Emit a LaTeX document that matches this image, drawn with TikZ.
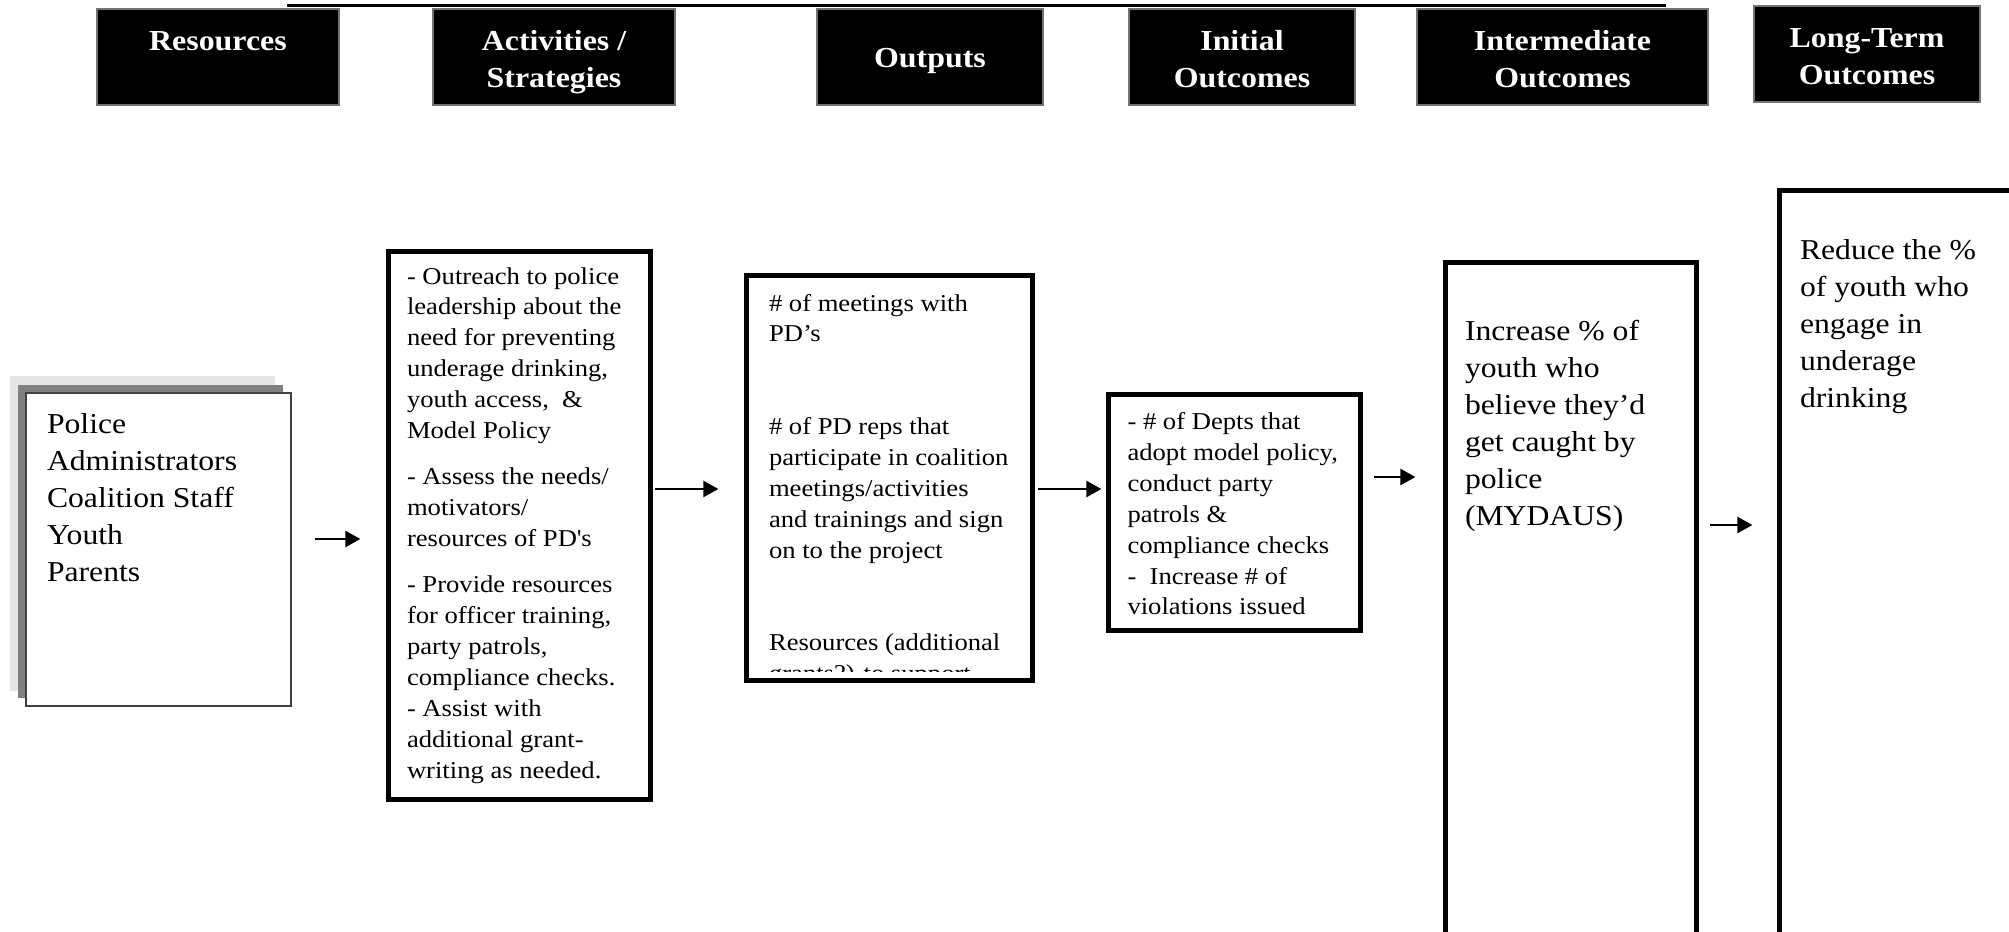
\documentclass[tikz,border=0pt]{standalone}
\usepackage{fontspec}
\setmainfont{Liberation Serif}[FakeStretch=1.1]
\usetikzlibrary{arrows.meta,fit}

% a block of left-aligned lines whose first baseline is the node's base
\newcommand\txtblock[3]{\parbox[t]{300pt}{\fontsize{#1}{#2}\selectfont\raggedright #3}}
% centred header lines, first baseline at the node's base
\newcommand\hdrlines[1]{\parbox[t]{140pt}{\centering\fontsize{14.5}{18.5}\selectfont\bfseries #1}}

\tikzset{
  hdr/.style={fill=black, draw=black!55, line width=0.6pt, inner sep=0pt},
  hdrtext/.style={anchor=base, inner sep=0pt, outer sep=0pt, text=white},
  frame/.style={draw=black, line width=2.6pt, inner sep=0pt},
  inbox/.style={draw=black!75, fill=white, line width=0.8pt, inner sep=0pt},
  txt/.style={anchor=base west, inner sep=0pt, outer sep=0pt},
  arr/.style={line width=1.15pt, -{Triangle[length=7.5pt,width=8pt]}},
}

\begin{document}
\begin{tikzpicture}[x=0.5pt,y=-0.5pt]
\useasboundingbox (0,0) rectangle (2009,932);

% rule under the title
\draw[line width=1.7pt] (287,5.7) -- (1666,5.7);

% column headers
\node[hdr, fit={(97,9) (339,105)}] (hres) {};
\node[hdrtext] (hrest) at (hres.center |- 0,50) {\hdrlines{Resources}};
\node[hdr, fit={(433,9) (675,105)}] (hact) {};
\node[hdrtext] (hactt) at (hact.center |- 0,50) {\hdrlines{Activities /\\Strategies}};
\node[hdr, fit={(817,9) (1043,105)}] (hout) {};
\node[hdrtext] (houtt) at (hout.center |- 0,67) {\hdrlines{Outputs}};
\node[hdr, fit={(1129,9) (1355,105)}] (hini) {};
\node[hdrtext] (hinit) at (hini.center |- 0,50) {\hdrlines{Initial\\Outcomes}};
\node[hdr, fit={(1417,9) (1708,105)}] (hmid) {};
\node[hdrtext] (hmidt) at (hmid.center |- 0,50) {\hdrlines{Intermediate\\Outcomes}};
\node[hdr, fit={(1754,6) (1980,102)}] (hlong) {};
\node[hdrtext] (hlongt) at (hlong.center |- 0,47.5) {\hdrlines{Long-Term\\Outcomes}};

% resources card with its stacked shadows
\fill[black!10] (10,376) rectangle (275,691);
\fill[black!50] (18,385) rectangle (283,698);
\node[inbox, fit={(26,393) (291,706)}] (res) {};
\node[txt] (restext) at (47,433)
  {\txtblock{14.4}{18.5}{Police\\Administrators\\Coalition Staff\\Youth\\Parents}};

% activities / strategies
\node[frame, fit={(388.6,251.6) (650.4,799.4)}] (act) {};
\node[txt] (acttext) at (407,284) {\txtblock{12.1}{15.45}{%
- Outreach to police\\leadership about the\\need for preventing\\underage drinking,\\youth access,\ \ \&\\Model Policy\\[7.7pt]%
- Assess the needs/\\motivators/\\resources of PD\textquotesingle s\\[7.7pt]%
- Provide resources\\for officer training,\\party patrols,\\compliance checks.\\- Assist with\\additional grant-\\writing as needed.}};

% outputs (text runs past the bottom of the box and is cut off)
\node[frame, fit={(746.6,275.6) (1032.4,680.4)}] (out) {};
\begin{scope}
  \clip (751,278) rectangle (1030,671);
  \node[txt] (outtext) at (769,311) {\txtblock{12.1}{15.45}{%
\# of meetings with\\PD’s\\[30.9pt]%
\# of PD reps that\\participate in coalition\\meetings/activities\\and trainings and sign\\on to the project\\[30.9pt]%
Resources (additional\\grants?) to support}};
\end{scope}

% initial outcomes
\node[frame, fit={(1108.6,394.6) (1360.4,630.4)}] (ini) {};
\node[txt] (initext) at (1127.5,429.5) {\txtblock{12.1}{15.45}{%
- \# of Depts that\\adopt model policy,\\conduct party\\patrols \&\\compliance checks\\-\ \ Increase \# of\\violations issued}};

% intermediate outcomes
\node[frame, fit={(1445.6,262.6) (1696.4,1000)}] (mid) {};
\node[txt] (midtext) at (1465,340) {\txtblock{14.4}{18.5}{%
Increase \% of\\youth who\\believe they’d\\get caught by\\police\\(MYDAUS)}};

% long-term outcomes
\node[frame, fit={(1779.6,190.6) (2100,1000)}] (long) {};
\node[txt] (longtext) at (1800,259) {\txtblock{14.4}{18.5}{%
Reduce the \%\\of youth who\\engage in\\underage\\drinking}};

% flow arrows
\draw[arr, shorten <=11.5pt, shorten >=12.8pt] (res.east |- 0,539) -- (act.west |- 0,539);
\draw[arr, shorten <=1pt, shorten >=12.8pt] (act.east |- 0,489) -- (out.west |- 0,489);
\draw[arr, shorten <=1.3pt, shorten >=2.3pt] (out.east |- 0,489) -- (ini.west |- 0,489);
\draw[arr, shorten <=5.3pt, shorten >=13.8pt] (ini.east |- 0,477) -- (mid.west |- 0,477);
\draw[arr, shorten <=5.3pt, shorten >=12.3pt] (mid.east |- 0,525) -- (long.west |- 0,525);
\end{tikzpicture}
\end{document}
